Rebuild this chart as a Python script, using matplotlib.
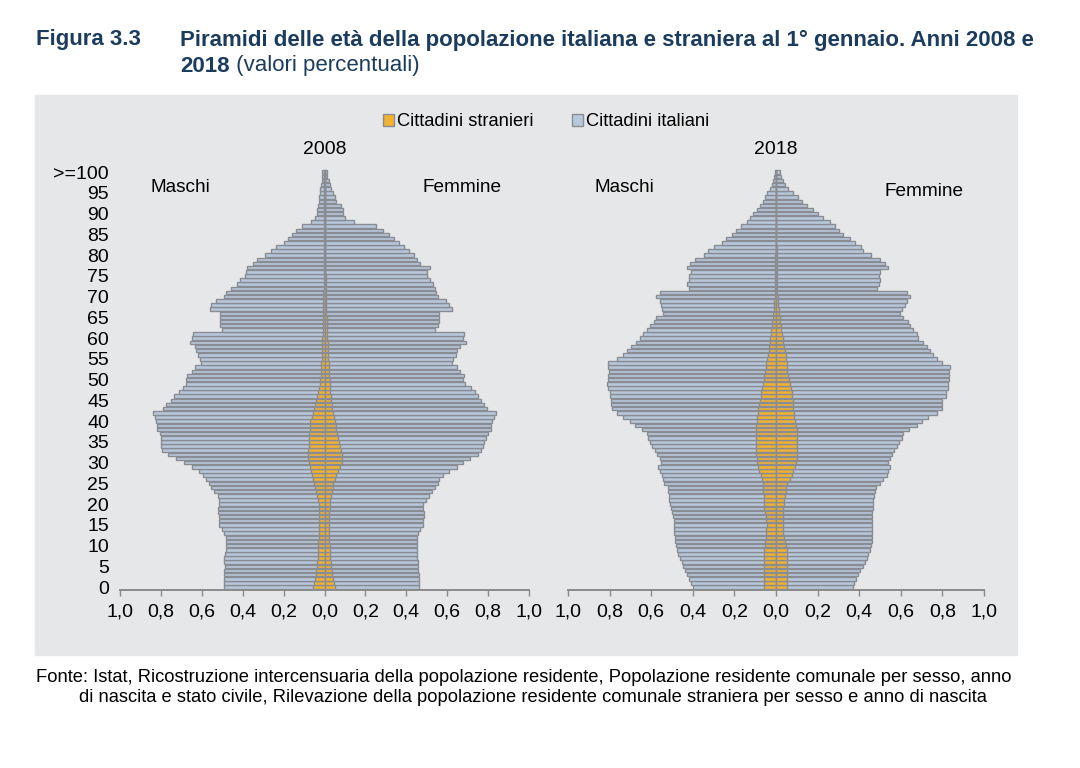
import numpy as np
import matplotlib

matplotlib.use("Agg")
import matplotlib.pyplot as plt
from matplotlib.patches import Patch, Rectangle

plt.rcParams["font.family"] = ["Liberation Sans", "DejaVu Sans"]

# ages 0 .. 100 (last class ">=100"), values in % of total population
ages = np.arange(101)

ita_m_2008 = [0.49, 0.49, 0.49, 0.49, 0.49, 0.485, 0.49, 0.49, 0.485, 0.48,
              0.48, 0.48, 0.48, 0.49, 0.50, 0.515, 0.515, 0.515, 0.52, 0.52,
              0.515, 0.515, 0.52, 0.54, 0.555, 0.565, 0.58, 0.595, 0.615, 0.65,
              0.685, 0.725, 0.765, 0.795, 0.80, 0.80, 0.80, 0.805, 0.82, 0.82,
              0.825, 0.83, 0.84, 0.79, 0.775, 0.75, 0.735, 0.71, 0.69, 0.675,
              0.675, 0.67, 0.65, 0.635, 0.605, 0.61, 0.62, 0.63, 0.635, 0.66,
              0.65, 0.645, 0.50, 0.51, 0.51, 0.51, 0.51, 0.56, 0.555, 0.53,
              0.49, 0.48, 0.455, 0.43, 0.415, 0.39, 0.385, 0.38, 0.35, 0.33,
              0.29, 0.26, 0.235, 0.20, 0.18, 0.16, 0.14, 0.11, 0.065, 0.045,
              0.035, 0.035, 0.03, 0.028, 0.025, 0.022, 0.02, 0.015, 0.013, 0.01,
              0.01]
ita_f_2008 = [0.46, 0.46, 0.46, 0.46, 0.455, 0.455, 0.455, 0.45, 0.45, 0.45,
              0.45, 0.45, 0.45, 0.455, 0.465, 0.48, 0.48, 0.485, 0.485, 0.48,
              0.48, 0.495, 0.51, 0.525, 0.54, 0.555, 0.56, 0.58, 0.61, 0.65,
              0.675, 0.71, 0.75, 0.765, 0.775, 0.78, 0.79, 0.80, 0.815, 0.815,
              0.82, 0.83, 0.84, 0.795, 0.78, 0.765, 0.75, 0.735, 0.715, 0.685,
              0.675, 0.68, 0.665, 0.65, 0.625, 0.63, 0.645, 0.65, 0.665, 0.69,
              0.675, 0.68, 0.54, 0.555, 0.56, 0.56, 0.56, 0.625, 0.61, 0.595,
              0.555, 0.545, 0.54, 0.53, 0.515, 0.50, 0.50, 0.515, 0.465, 0.45,
              0.44, 0.415, 0.39, 0.365, 0.34, 0.315, 0.285, 0.25, 0.145, 0.10,
              0.09, 0.09, 0.08, 0.055, 0.05, 0.04, 0.03, 0.025, 0.02, 0.012,
              0.01]
str_m_2008 = [0.057, 0.052, 0.048, 0.043, 0.040, 0.037, 0.035, 0.033, 0.032, 0.031,
              0.030, 0.030, 0.029, 0.029, 0.028, 0.028, 0.028, 0.028, 0.028, 0.028,
              0.029, 0.031, 0.035, 0.040, 0.045, 0.050, 0.055, 0.060, 0.065, 0.072,
              0.077, 0.079, 0.080, 0.079, 0.078, 0.077, 0.076, 0.074, 0.072, 0.071,
              0.070, 0.062, 0.055, 0.050, 0.045, 0.040, 0.036, 0.032, 0.028, 0.024,
              0.020, 0.018, 0.017, 0.016, 0.015, 0.014, 0.013, 0.012, 0.011, 0.010,
              0.010, 0.009, 0.008, 0.008, 0.007, 0.007, 0.006, 0.006, 0.006, 0.005,
              0.005, 0.005, 0.004, 0.004, 0.004, 0.004, 0.003, 0.003, 0.003, 0.003,
              0.003, 0.003, 0.002, 0.002, 0.002, 0.002, 0.002, 0.002, 0.001, 0.001,
              0.001, 0.001, 0.001, 0.001, 0.001, 0.001, 0.001, 0.001, 0.001, 0.001,
              0.001]
str_f_2008 = [0.050, 0.045, 0.040, 0.037, 0.035, 0.033, 0.030, 0.028, 0.027, 0.026,
              0.025, 0.024, 0.024, 0.023, 0.023, 0.023, 0.023, 0.024, 0.024, 0.025,
              0.025, 0.027, 0.030, 0.035, 0.040, 0.044, 0.050, 0.057, 0.065, 0.078,
              0.086, 0.087, 0.086, 0.082, 0.078, 0.073, 0.068, 0.062, 0.058, 0.054,
              0.050, 0.046, 0.040, 0.037, 0.035, 0.033, 0.031, 0.029, 0.027, 0.026,
              0.025, 0.023, 0.022, 0.021, 0.020, 0.019, 0.018, 0.017, 0.016, 0.015,
              0.014, 0.013, 0.012, 0.011, 0.010, 0.010, 0.009, 0.008, 0.008, 0.007,
              0.007, 0.006, 0.006, 0.005, 0.005, 0.005, 0.004, 0.004, 0.004, 0.003,
              0.003, 0.003, 0.003, 0.002, 0.002, 0.002, 0.002, 0.002, 0.001, 0.001,
              0.001, 0.001, 0.001, 0.001, 0.001, 0.001, 0.001, 0.001, 0.001, 0.001,
              0.001]

ita_m_2018 = [0.397, 0.41, 0.417, 0.426, 0.437, 0.445, 0.454, 0.46, 0.47, 0.474,
              0.48, 0.484, 0.486, 0.489, 0.49, 0.49, 0.49, 0.494, 0.50, 0.506,
              0.51, 0.513, 0.516, 0.518, 0.52, 0.54, 0.545, 0.55, 0.558, 0.565,
              0.555, 0.56, 0.57, 0.582, 0.598, 0.606, 0.614, 0.62, 0.646, 0.678,
              0.70, 0.734, 0.766, 0.79, 0.793, 0.795, 0.798, 0.80, 0.806, 0.814,
              0.81, 0.806, 0.805, 0.81, 0.81, 0.763, 0.735, 0.715, 0.695, 0.673,
              0.655, 0.64, 0.62, 0.605, 0.585, 0.575, 0.545, 0.55, 0.555, 0.56,
              0.575, 0.56, 0.42, 0.43, 0.42, 0.42, 0.41, 0.43, 0.413, 0.39,
              0.346, 0.325, 0.30, 0.26, 0.24, 0.21, 0.19, 0.17, 0.141, 0.125,
              0.109, 0.093, 0.077, 0.064, 0.053, 0.045, 0.03, 0.02, 0.015, 0.01,
              0.005]
ita_f_2018 = [0.372, 0.375, 0.385, 0.396, 0.404, 0.417, 0.428, 0.436, 0.444, 0.452,
              0.457, 0.46, 0.46, 0.46, 0.46, 0.46, 0.463, 0.46, 0.463, 0.465,
              0.465, 0.468, 0.471, 0.476, 0.48, 0.50, 0.516, 0.532, 0.54, 0.548,
              0.54, 0.548, 0.556, 0.567, 0.58, 0.593, 0.604, 0.612, 0.64, 0.676,
              0.70, 0.73, 0.772, 0.80, 0.80, 0.80, 0.815, 0.815, 0.825, 0.825,
              0.83, 0.83, 0.834, 0.837, 0.796, 0.772, 0.756, 0.74, 0.724, 0.708,
              0.684, 0.676, 0.66, 0.644, 0.636, 0.612, 0.596, 0.604, 0.62, 0.631,
              0.644, 0.628, 0.484, 0.497, 0.50, 0.497, 0.50, 0.54, 0.524, 0.50,
              0.455, 0.42, 0.41, 0.38, 0.356, 0.324, 0.305, 0.285, 0.26, 0.228,
              0.20, 0.18, 0.147, 0.123, 0.107, 0.083, 0.06, 0.043, 0.032, 0.022,
              0.02]
str_m_2018 = [0.058, 0.058, 0.058, 0.058, 0.058, 0.058, 0.058, 0.058, 0.058, 0.056,
              0.053, 0.051, 0.049, 0.048, 0.046, 0.045, 0.047, 0.050, 0.053, 0.056,
              0.060, 0.060, 0.060, 0.061, 0.062, 0.064, 0.069, 0.074, 0.080, 0.085,
              0.089, 0.093, 0.095, 0.096, 0.096, 0.096, 0.097, 0.098, 0.098, 0.096,
              0.093, 0.090, 0.088, 0.085, 0.081, 0.077, 0.074, 0.071, 0.067, 0.063,
              0.060, 0.057, 0.053, 0.050, 0.046, 0.042, 0.039, 0.036, 0.033, 0.030,
              0.028, 0.025, 0.023, 0.020, 0.018, 0.016, 0.014, 0.012, 0.010, 0.008,
              0.007, 0.006, 0.005, 0.005, 0.004, 0.004, 0.004, 0.003, 0.003, 0.003,
              0.003, 0.002, 0.002, 0.002, 0.002, 0.002, 0.001, 0.001, 0.001, 0.001,
              0.001, 0.001, 0.001, 0.001, 0.001, 0.001, 0.001, 0.001, 0.001, 0.001,
              0.001]
str_f_2018 = [0.055, 0.055, 0.055, 0.055, 0.055, 0.055, 0.055, 0.055, 0.055, 0.053,
              0.048, 0.042, 0.038, 0.035, 0.033, 0.032, 0.032, 0.032, 0.033, 0.035,
              0.038, 0.040, 0.042, 0.046, 0.050, 0.055, 0.065, 0.075, 0.083, 0.091,
              0.095, 0.100, 0.102, 0.103, 0.103, 0.103, 0.102, 0.101, 0.100, 0.095,
              0.091, 0.088, 0.085, 0.083, 0.081, 0.080, 0.078, 0.075, 0.071, 0.067,
              0.064, 0.060, 0.055, 0.053, 0.051, 0.050, 0.046, 0.042, 0.038, 0.035,
              0.032, 0.029, 0.026, 0.022, 0.019, 0.017, 0.015, 0.013, 0.011, 0.009,
              0.008, 0.007, 0.006, 0.006, 0.005, 0.005, 0.004, 0.004, 0.004, 0.003,
              0.003, 0.003, 0.003, 0.002, 0.002, 0.002, 0.002, 0.002, 0.001, 0.001,
              0.001, 0.001, 0.001, 0.001, 0.001, 0.001, 0.001, 0.001, 0.001, 0.001,
              0.001]

years = ["2008", "2018"]
xticks = [-1.0, -0.8, -0.6, -0.4, -0.2, 0.0, 0.2, 0.4, 0.6, 0.8, 1.0]
yticks = list(range(0, 101, 5))
ylabels = [str(a) for a in range(0, 100, 5)] + [">=100"]

ITA = "#b8c8dc"
STR = "#f1b131"
EDGE = "#898d93"
NAVY = "#1c3c5d"

W, H = 1080, 768
fig = plt.figure(figsize=(W / 100, H / 100), dpi=100)
fig.patches.append(Rectangle((35 / W, 1 - 655 / H), 982 / W, 560 / H,
                             transform=fig.transFigure, color="#e6e7e8", zorder=-5))

panels = [
    (120, 409, ita_m_2008, ita_f_2008, str_m_2008, str_f_2008),
    (568, 416, ita_m_2018, ita_f_2018, str_m_2018, str_f_2018),
]
for i, (x0, w, im, itf, sm, sf) in enumerate(panels):
    ax = fig.add_axes([x0 / W, 1 - 590 / H, w / W, 424 / H])
    ax.patch.set_alpha(0)
    kw = dict(height=0.85, edgecolor=EDGE, linewidth=1.0)
    ax.barh(ages, -np.array(im), color=ITA, zorder=2, **kw)
    ax.barh(ages, itf, color=ITA, zorder=2, **kw)
    ax.barh(ages, -np.array(sm), color=STR, zorder=3, **kw)
    ax.barh(ages, sf, color=STR, zorder=3, **kw)
    ax.set_xlim(-1, 1)
    ax.set_ylim(-0.7, 101.5)
    ax.set_xticks(xticks)
    ax.set_xticklabels([f"{abs(t):.1f}".replace(".", ",") for t in xticks])
    ax.tick_params(axis="x", direction="out", length=4, width=1, color="#8a8a8a",
                   labelsize=14, pad=6)
    for s in ["top", "right", "left"]:
        ax.spines[s].set_visible(False)
    ax.spines["bottom"].set_color("#8a8a8a")
    ax.spines["bottom"].set_linewidth(1.4)
    if i == 0:
        ax.set_yticks(yticks)
        ax.set_yticklabels(ylabels)
        ax.tick_params(axis="y", length=0, labelsize=14, pad=8)
    else:
        ax.set_yticks([])

fig.text(325 / W, 1 - 149 / H, years[0], ha="center", va="center", fontsize=14)
fig.text(776 / W, 1 - 149 / H, years[1], ha="center", va="center", fontsize=14)
for x, y, s in [(150, 187, "Maschi"), (422, 187, "Femmine"),
                (594, 187, "Maschi"), (884, 191, "Femmine")]:
    fig.text(x / W, 1 - y / H, s, ha="left", va="center", fontsize=13.7)

handles = [Patch(facecolor=STR, edgecolor=EDGE, label="Cittadini stranieri"),
           Patch(facecolor=ITA, edgecolor=EDGE, label="Cittadini italiani")]
fig.legend(handles=handles, loc="center", bbox_to_anchor=(546 / W, 1 - 122 / H),
           ncol=2, frameon=False, fontsize=13.2, handlelength=0.6, handleheight=0.6,
           handletextpad=0.15, columnspacing=2.1)

fig.text(36 / W, 1 - 40 / H, "Figura 3.3", fontsize=16,
         fontweight="bold", color=NAVY, va="center")
fig.text(180 / W, 1 - 40 / H,
         "Piramidi delle età della popolazione italiana e straniera al 1° gennaio. Anni 2008 e",
         fontsize=16, fontweight="bold", color=NAVY, va="center")
t2 = fig.text(180 / W, 1 - 66 / H, "2018", fontsize=16,
              fontweight="bold", color=NAVY, va="center")
plt.annotate(" (valori percentuali)", xy=(1, 0), xycoords=t2, va="bottom",
             ha="left", fontsize=16, color=NAVY, annotation_clip=False)

fig.text(36 / W, 1 - 678 / H,
         "Fonte: Istat, Ricostruzione intercensuaria della popolazione residente, "
         "Popolazione residente comunale per sesso, anno", fontsize=13.2, va="center")
fig.text(79 / W, 1 - 698 / H,
         "di nascita e stato civile, Rilevazione della popolazione residente comunale "
         "straniera per sesso e anno di nascita", fontsize=13.2, va="center")

fig.savefig("out.png", dpi=100)
